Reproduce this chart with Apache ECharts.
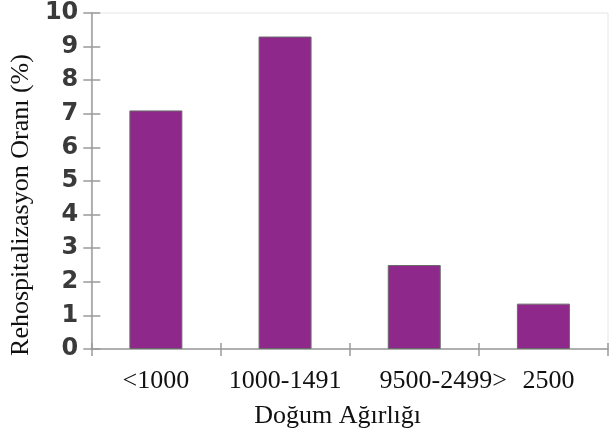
<!DOCTYPE html>
<html>
<head>
<meta charset="utf-8">
<script src="https://cdn.jsdelivr.net/npm/echarts@6/dist/echarts.min.js"></script>
<style>
  html, body { margin: 0; padding: 0; background: #fff; }
  #chart { width: 616px; height: 435px; }
</style>
</head>
<body>
<div id="chart"></div>
<script>
// 数据
const categories = ['<1000', '1000-1491', '9500-2499>', '2500']
const rates = [7.1, 9.3, 2.5, 1.35]
const labelShift = [0, 0, 58, 10]

const axisGray = '#9a9a9a'
const serif = '"Liberation Serif", "Times New Roman", serif'

const chart = echarts.init(document.getElementById('chart'))

chart.setOption({
  animation: false,
  grid: {
    left: 91,
    right: 8,
    top: 13,
    bottom: 86,
    show: true,
    borderColor: '#e6e6e6',
    borderWidth: 1
  },
  xAxis: [
    {
      type: 'category',
      data: categories.map((c, i) => ({
        value: c,
        textStyle: { padding: [0, 0, 0, labelShift[i]] }
      })),
      axisLine: { lineStyle: { color: axisGray, width: 1.5 } },
      axisTick: { show: true, interval: 0, length: 7, lineStyle: { color: axisGray, width: 1.5 } },
      axisLabel: {
        interval: 0,
        margin: 19,
        fontFamily: serif,
        fontSize: 26,
        color: '#111'
      },
      name: 'Doğum Ağırlığı',
      nameLocation: 'middle',
      nameGap: 54,
      nameTextStyle: {
        fontFamily: serif,
        fontSize: 26,
        color: '#111',
        padding: [0, 24, 0, 0]
      }
    },
    {
      type: 'category',
      data: categories,
      position: 'bottom',
      axisLine: { show: false },
      axisTick: { show: true, interval: 0, inside: true, length: 6, lineStyle: { color: axisGray, width: 1.5 } },
      axisLabel: { show: false }
    }
  ],
  yAxis: [
    {
      type: 'value',
      min: 0,
      max: 10,
      interval: 1,
      splitLine: { show: false },
      axisLine: { show: true, lineStyle: { color: axisGray, width: 1.5 } },
      axisTick: { show: true, length: 8, lineStyle: { color: axisGray, width: 1.5 } },
      axisLabel: {
        margin: 13,
        fontFamily: '"DejaVu Sans", Verdana, sans-serif',
        fontSize: 24,
        fontWeight: 'bold',
        color: '#3a3a3a'
      },
      name: 'Rehospitalizasyon Oranı (%)',
      nameLocation: 'middle',
      nameGap: 56,
      nameTextStyle: {
        fontFamily: serif,
        fontSize: 26,
        color: '#111',
        padding: [0, 48, 0, 0]
      }
    },
    {
      type: 'value',
      min: 0,
      max: 10,
      interval: 1,
      position: 'left',
      splitLine: { show: false },
      axisLine: { show: false },
      axisTick: { show: true, inside: true, length: 9, lineStyle: { color: axisGray, width: 1.5 } },
      axisLabel: { show: false }
    }
  ],
  series: [
    {
      type: 'bar',
      data: rates,
      barWidth: 53,
      itemStyle: {
        color: '#8f288b',
        borderColor: '#6a6a6a',
        borderWidth: 1
      }
    }
  ]
})
</script>
</body>
</html>
